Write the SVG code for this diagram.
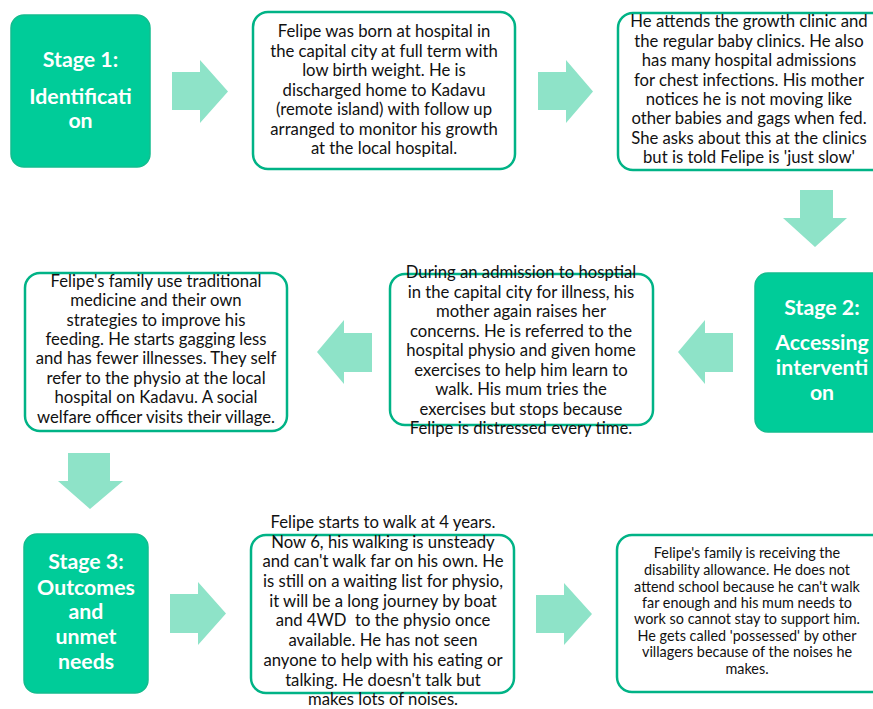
<svg xmlns="http://www.w3.org/2000/svg" width="873" height="709" viewBox="0 0 873 709">
<style>
.stage{fill:#00CC99;stroke:#12BD8E;stroke-width:1.5}
.box{fill:#ffffff;stroke:#00B386;stroke-width:2.5}
.arrow{fill:#8EE3C8}
.st{font-family:Lato,"Liberation Sans",sans-serif;font-weight:bold;font-size:21.3px;fill:#ffffff;text-anchor:middle}
.tx{font-family:Lato,"Liberation Sans",sans-serif;font-size:16.7px;fill:#111111;text-anchor:middle}
.sm{font-size:14.4px}
.pre{white-space:pre}
</style>
<rect width="873" height="709" fill="#ffffff"/>
<g id="connectors">
<polygon class="arrow" points="172,72 200,72 200,60 228,91.5 200,123 200,110 172,110"/>
<polygon class="arrow" points="538,72 566,72 566,60 593,91.5 566,123 566,110 538,110"/>
<polygon class="arrow" points="800,190 833,190 833,218 847,218 815,247 783,218 800,218"/>
<polygon class="arrow" points="733,333 705,333 705,320 678,352 705,384 705,372 733,372"/>
<polygon class="arrow" points="372,333 344,333 344,320 317,352 344,384 344,372 372,372"/>
<polygon class="arrow" points="68,453 110,453 110,481 123,481 90,509 58,481 68,481"/>
<polygon class="arrow" points="170,594 198,594 198,582 226,613.5 198,645 198,633 170,633"/>
<polygon class="arrow" points="536,595 564,595 564,583 592,614 564,645 564,633 536,633"/>
</g>
<g id="stage1">
<rect class="stage" x="11" y="15" width="139" height="152" rx="13"/>
<text class="st" x="80.5" y="67">Stage 1:</text>
<text class="st" x="80.5" y="104">Identificati</text>
<text class="st" x="80.5" y="128">on</text>
</g>
<g id="birth">
<rect class="box" x="253" y="12" width="262" height="157" rx="15"/>
<text class="tx" x="384" y="37">Felipe was born at hospital in</text>
<text class="tx" x="384" y="57">the capital city at full term with</text>
<text class="tx" x="384" y="76">low birth weight. He is</text>
<text class="tx" x="384" y="96">discharged home to Kadavu</text>
<text class="tx" x="384" y="115">(remote island) with follow up</text>
<text class="tx" x="384" y="135">arranged to monitor his growth</text>
<text class="tx" x="384" y="154">at the local hospital.</text>
</g>
<g id="clinics">
<rect class="box" x="618" y="13" width="270" height="157" rx="15"/>
<text class="tx" x="749" y="27">He attends the growth clinic and</text>
<text class="tx" x="749" y="47">the regular baby clinics. He also</text>
<text class="tx" x="749" y="66">has many hospital admissions</text>
<text class="tx" x="749" y="86">for chest infections. His mother</text>
<text class="tx" x="749" y="105">notices he is not moving like</text>
<text class="tx" x="749" y="124">other babies and gags when fed.</text>
<text class="tx" x="749" y="144">She asks about this at the clinics</text>
<text class="tx" x="749" y="163">but is told Felipe is 'just slow'</text>
</g>
<g id="stage2">
<rect class="stage" x="755" y="273" width="134" height="159" rx="13"/>
<text class="st" x="822" y="315">Stage 2:</text>
<text class="st" x="822" y="350">Accessing</text>
<text class="st" x="822" y="375">interventi</text>
<text class="st" x="822" y="400">on</text>
</g>
<g id="admission">
<rect class="box" x="390" y="274" width="263" height="151" rx="15"/>
<text class="tx" x="521" y="278">During an admission to hosptial</text>
<text class="tx" x="521" y="298">in the capital city for illness, his</text>
<text class="tx" x="521" y="317">mother again raises her</text>
<text class="tx" x="521" y="337">concerns. He is referred to the</text>
<text class="tx" x="521" y="356">hospital physio and given home</text>
<text class="tx" x="521" y="376">exercises to help him learn to</text>
<text class="tx" x="521" y="395">walk. His mum tries the</text>
<text class="tx" x="521" y="415">exercises but stops because</text>
<text class="tx" x="521" y="434">Felipe is distressed every time.</text>
</g>
<g id="family">
<rect class="box" x="25" y="273" width="262" height="158" rx="15"/>
<text class="tx" x="156" y="287">Felipe's family use traditional</text>
<text class="tx" x="156" y="306">medicine and their own</text>
<text class="tx" x="156" y="326">strategies to improve his</text>
<text class="tx" x="156" y="345">feeding. He starts gagging less</text>
<text class="tx" x="156" y="364">and has fewer illnesses. They self</text>
<text class="tx" x="156" y="384">refer to the physio at the local</text>
<text class="tx" x="156" y="403">hospital on Kadavu. A social</text>
<text class="tx" x="156" y="423">welfare officer visits their village.</text>
</g>
<g id="stage3">
<rect class="stage" x="24" y="534" width="124" height="159" rx="13"/>
<text class="st" x="86" y="569">Stage 3:</text>
<text class="st" x="86" y="595">Outcomes</text>
<text class="st" x="86" y="619">and</text>
<text class="st" x="86" y="644">unmet</text>
<text class="st" x="86" y="669">needs</text>
</g>
<g id="walking">
<rect class="box" x="251" y="535" width="263" height="158" rx="15"/>
<text class="tx" x="383" y="528">Felipe starts to walk at 4 years.</text>
<text class="tx" x="383" y="548">Now 6, his walking is unsteady</text>
<text class="tx" x="383" y="567">and can't walk far on his own. He</text>
<text class="tx" x="383" y="587">is still on a waiting list for physio,</text>
<text class="tx" x="383" y="607">it will be a long journey by boat</text>
<text class="tx pre" x="383" y="626">and 4WD  to the physio once</text>
<text class="tx" x="383" y="646">available. He has not seen</text>
<text class="tx" x="383" y="666">anyone to help with his eating or</text>
<text class="tx" x="383" y="686">talking. He doesn't talk but</text>
<text class="tx" x="383" y="705">makes lots of noises.</text>
</g>
<g id="allowance">
<rect class="box" x="617" y="535" width="270" height="157" rx="15"/>
<text class="tx sm" x="747" y="558">Felipe's family is receiving the</text>
<text class="tx sm" x="747" y="575">disability allowance. He does not</text>
<text class="tx sm" x="747" y="592">attend school because he can't walk</text>
<text class="tx sm" x="747" y="608">far enough and his mum needs to</text>
<text class="tx sm" x="747" y="624">work so cannot stay to support him.</text>
<text class="tx sm" x="747" y="641">He gets called 'possessed' by other</text>
<text class="tx sm" x="747" y="657">villagers because of the noises he</text>
<text class="tx sm" x="747" y="674">makes.</text>
</g>
</svg>
